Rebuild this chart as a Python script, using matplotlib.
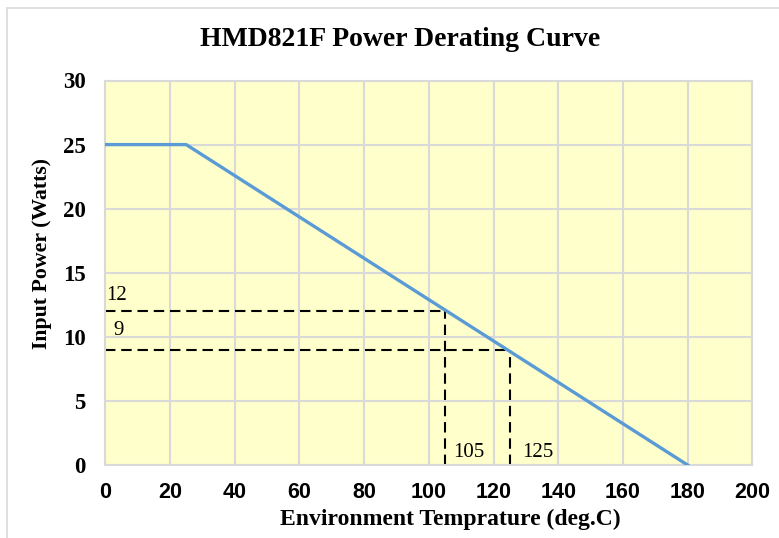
import matplotlib
matplotlib.use("Agg")
import matplotlib.pyplot as plt
from matplotlib.patches import Rectangle

# derating curve
temps = [0, 25, 180]
power = [25, 25, 0]

# marked operating points
mark_temps = [105, 125]
mark_power = [12, 9]

x_ticks = [0, 20, 40, 60, 80, 100, 120, 140, 160, 180, 200]
y_ticks = [0, 5, 10, 15, 20, 25, 30]

fig = plt.figure(figsize=(7.79, 5.38), dpi=100)
ax = fig.add_axes([105.3 / 779, 1 - 465 / 538, 647 / 779, 384.5 / 538])

# outer chart border (light gray)
fig.patches.append(Rectangle((7 / 779, -0.01), 1.0, 1 - 8 / 538 + 0.01,
                             transform=fig.transFigure, fill=False,
                             edgecolor="#d9d9d9", linewidth=1.2))

ax.set_facecolor("#ffffcc")
ax.plot(temps, power, color="#5b9bd5", linewidth=2.4, zorder=3)

# dashed guides
for t, p in zip(mark_temps, mark_power):
    ax.plot([0, t], [p, p], color="black", linestyle=(0, (5, 2.8)), linewidth=1.5, zorder=2)
    ax.plot([t, t], [0, p], color="black", linestyle=(0, (5, 2.8)), linewidth=1.5, zorder=2)

serif = "Liberation Serif"
ax.text(0.4, 12.45, "12", fontsize=15, family=serif, va="bottom", ha="left")
ax.text(2.4, 9.75, "9", fontsize=15, family=serif, va="bottom", ha="left")
ax.text(107.4, 0.25, "105", fontsize=15, family=serif, va="bottom", ha="left")
ax.text(129, 0.25, "125", fontsize=15, family=serif, va="bottom", ha="left")

ax.set_xlim(0, 200)
ax.set_ylim(0, 30)
ax.set_xticks(x_ticks)
ax.set_yticks(y_ticks)
ax.set_xticklabels([str(v) for v in x_ticks], fontsize=15.5, fontweight="bold",
                   family="Liberation Sans")
ax.set_yticklabels([str(v) for v in y_ticks], fontsize=16.5, fontweight="bold",
                   family=serif)
ax.tick_params(length=0)
ax.tick_params(axis="x", pad=12)
ax.tick_params(axis="y", pad=14)

ax.grid(True, color="#d9d9d9", linewidth=1.5, zorder=0)
ax.set_axisbelow(True)
for s in ax.spines.values():
    s.set_color("#d9d9d9")
    s.set_linewidth(1.5)

ax.set_xlabel("Environment Temprature (deg.C)", fontsize=17, fontweight="bold",
              family=serif)
ax.xaxis.set_label_coords(0.534, -0.114)
ax.set_ylabel("Input Power (Watts)", fontsize=15.7, fontweight="bold",
              family=serif)
ax.yaxis.set_label_coords(-0.0824, 0.549)
fig.text(0.513, 1 - 40 / 538, "HMD821F Power Derating Curve", ha="center", va="center",
         fontsize=20, fontweight="bold", family=serif)

fig.savefig("out.png", dpi=100)
plt.close(fig)
